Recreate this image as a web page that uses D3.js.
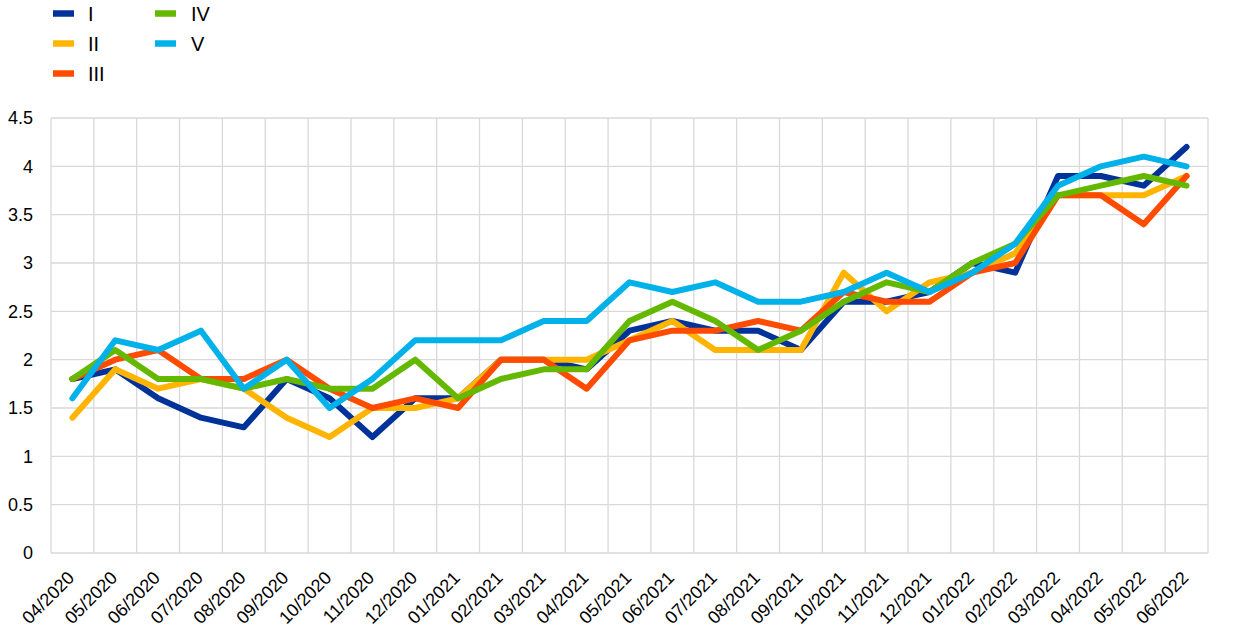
<!DOCTYPE html>
<html>
<head>
<meta charset="utf-8">
<script src="https://cdn.jsdelivr.net/npm/d3@7"></script>
<style>
  html, body { margin: 0; padding: 0; background: #fff; }
  svg { display: block; font-family: "Liberation Sans", Arial, sans-serif; }
</style>
</head>
<body>
<svg id="chart" width="1240" height="643"></svg>
<script>
const categories = ["04/2020","05/2020","06/2020","07/2020","08/2020","09/2020","10/2020","11/2020","12/2020",
  "01/2021","02/2021","03/2021","04/2021","05/2021","06/2021","07/2021","08/2021","09/2021","10/2021","11/2021","12/2021",
  "01/2022","02/2022","03/2022","04/2022","05/2022","06/2022"];

const seriesNames = ["I", "II", "III", "IV", "V"];
const seriesI   = [1.8,1.9,1.6,1.4,1.3,1.8,1.6,1.2,1.6,1.6,2.0,2.0,1.9,2.3,2.4,2.3,2.3,2.1,2.6,2.6,2.7,3.0,2.9,3.9,3.9,3.8,4.2];
const seriesII  = [1.4,1.9,1.7,1.8,1.7,1.4,1.2,1.5,1.5,1.6,2.0,2.0,2.0,2.2,2.4,2.1,2.1,2.1,2.9,2.5,2.8,2.9,3.1,3.7,3.7,3.7,3.9];
const seriesIII = [1.8,2.0,2.1,1.8,1.8,2.0,1.7,1.5,1.6,1.5,2.0,2.0,1.7,2.2,2.3,2.3,2.4,2.3,2.7,2.6,2.6,2.9,3.0,3.7,3.7,3.4,3.9];
const seriesIV  = [1.8,2.1,1.8,1.8,1.7,1.8,1.7,1.7,2.0,1.6,1.8,1.9,1.9,2.4,2.6,2.4,2.1,2.3,2.6,2.8,2.7,3.0,3.2,3.7,3.8,3.9,3.8];
const seriesV   = [1.6,2.2,2.1,2.3,1.7,2.0,1.5,1.8,2.2,2.2,2.2,2.4,2.4,2.8,2.7,2.8,2.6,2.6,2.7,2.9,2.7,2.9,3.2,3.8,4.0,4.1,4.0];
const yTicks = [0, 0.5, 1, 1.5, 2, 2.5, 3, 3.5, 4, 4.5];

const colors = ["#003299", "#FFB400", "#FF4B00", "#65B800", "#00B1EA"];
const allSeries = [seriesI, seriesII, seriesIII, seriesIV, seriesV];

const svg = d3.select("#chart");
const m = { left: 51, right: 1208, top: 118, bottom: 553 };

const x = d3.scaleBand().domain(categories).range([m.left, m.right]).paddingInner(0).paddingOuter(0);
const y = d3.scaleLinear().domain([0, 4.5]).range([m.bottom, m.top]);

const grid = svg.append("g");
grid.selectAll("line.h").data(yTicks).enter().append("line")
  .attr("x1", m.left).attr("x2", m.right)
  .attr("y1", d => y(d)).attr("y2", d => y(d))
  .attr("stroke", "#d9d9d9").attr("stroke-width", 1.3);
const bounds = categories.map(c => x(c)).concat([m.right]);
grid.selectAll("line.v").data(bounds).enter().append("line")
  .attr("x1", d => d).attr("x2", d => d)
  .attr("y1", m.top).attr("y2", m.bottom)
  .attr("stroke", "#d9d9d9").attr("stroke-width", 1.3);

const yAxis = d3.axisLeft(y).tickValues(yTicks).tickSize(0).tickPadding(0).tickFormat(d3.format("~g"));
const yg = svg.append("g").attr("transform", `translate(33,0)`).call(yAxis);
yg.select(".domain").remove();
yg.selectAll("text").attr("font-size", 18).attr("fill", "#000").attr("font-family", "Liberation Sans, Arial, sans-serif");

const xAxis = d3.axisBottom(x).tickSize(0).tickPadding(0);
const xg = svg.append("g").attr("transform", `translate(0,${m.bottom})`).call(xAxis);
xg.select(".domain").remove();
xg.selectAll("text")
  .attr("font-size", 18).attr("fill", "#000").attr("font-family", "Liberation Sans, Arial, sans-serif")
  .attr("text-anchor", "end")
  .attr("dy", null).attr("y", 0)
  .attr("transform", "translate(3,26) rotate(-45)");

const line = d3.line().x((d, i) => x(categories[i]) + x.bandwidth() / 2).y(d => y(d));
svg.append("g").selectAll("path").data(allSeries).enter().append("path")
  .attr("d", d => line(d))
  .attr("fill", "none")
  .attr("stroke", (d, i) => colors[i])
  .attr("stroke-width", 6)
  .attr("stroke-linejoin", "round")
  .attr("stroke-linecap", "round");

const legendPos = [
  { sx: 53, tx: 88, cy: 13.5 },
  { sx: 53, tx: 88, cy: 43.5 },
  { sx: 53, tx: 88, cy: 73.5 },
  { sx: 155, tx: 191, cy: 13.5 },
  { sx: 155, tx: 191, cy: 43.5 }
];
const lg = svg.append("g");
seriesNames.forEach((name, i) => {
  const p = legendPos[i];
  lg.append("line").attr("x1", p.sx).attr("x2", p.sx + 21).attr("y1", p.cy).attr("y2", p.cy)
    .attr("stroke", colors[i]).attr("stroke-width", 6.5);
  lg.append("text").attr("x", p.tx).attr("y", p.cy + 7).attr("font-size", 20).attr("fill", "#000").text(name);
});
</script>
</body>
</html>
